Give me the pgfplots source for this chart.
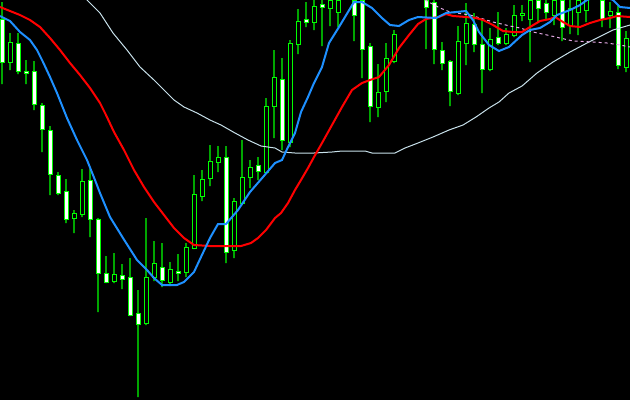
\documentclass[border=0pt]{standalone}
\usepackage{pgfplots}
\pgfplotsset{compat=1.18}
\usepackage{pgfplotstable}
\definecolor{cg}{RGB}{0,255,0}
\definecolor{mablue}{RGB}{30,144,255}
\definecolor{mared}{RGB}{255,0,0}
\definecolor{maslow}{RGB}{200,225,235}
\definecolor{mapink}{RGB}{230,170,230}

% candle data in screen units (y grows downwards): index, high, low, open, close
\pgfplotstableread{
k hi lo o c
0 2 84 19 62
1 33 70 62 42
2 33 74 43 71
3 60 84 71 73
4 61 110 71 104
5 103 152 105 129
6 126 195 130 174
7 172 195 175 193
8 179 223 191 219
9 210 233 218 213
10 169 217 214 181
11 169 237 180 219
12 218 312 219 273
13 256 283 273 282
14 253 283 281 274
15 264 289 275 279
16 258 316 277 315
17 290 397 313 324
18 218 325 323 277
19 241 281 277 263
20 243 287 267 280
21 262 286 282 269
22 254 281 271 273
23 243 277 272 247
24 175 249 248 194
25 170 201 196 179
26 145 186 178 161
27 146 172 162 157
28 146 263 157 252
29 198 258 250 201
30 140 205 203 177
31 160 188 177 167
32 157 180 165 171
33 98 173 172 106
34 50 138 106 77
35 58 150 79 140
36 40 147 142 43
37 9 54 44 21
38 2 27 19 22
39 -5 25 22 6
40 -5 41 4 7
41 -10 16 3 -5
42 -20 7 -3 -15
44 -30 11 -20 -5
45 -20 58 -5 44
46 43 122 46 106
47 64 117 107 92
48 43 102 91 58
49 30 63 61 34
53 -10 39 -5 2
54 -5 59 2 49
55 42 70 50 63
56 60 106 61 91
57 26 95 93 41
58 3 65 43 23
59 13 52 24 44
60 19 93 44 69
61 28 71 69 39
62 12 45 37 43
63 28 45 43 34
64 5 37 35 15
65 5 21 15 13
66 -10 52 14 -5
67 -10 13 -5 3
68 0 19 3 12
69 -10 15 10 -5
70 -10 31 -5 22
71 0 34 25 8
72 -10 25 7 -5
73 -20 2 -5 -15
75 -10 17 -5 14
76 2 28 15 11
77 6 69 12 65
78 31 72 67 38
}\candles

\pgfplotsset{base/.style={width=630bp, height=400bp, scale only axis,
  xmin=0, xmax=630, ymin=0, ymax=400, y dir=reverse,
  ticks=none, axis line style={draw=none}}}

\begin{document}
\begin{tikzpicture}
% wicks
\begin{axis}[base, axis background/.style={fill=black}, ybar stacked, bar width=1.2]
\addplot[draw=none, fill=none] table[x expr=2+8*\thisrow{k}, y=hi] {\candles};
\addplot[draw=none, fill=cg] table[x expr=2+8*\thisrow{k}, y expr=\thisrow{lo}-\thisrow{hi}] {\candles};
\end{axis}
% bodies
\begin{axis}[base, ybar stacked, bar width=4]
\addplot[draw=none, fill=none] table[x expr=2+8*\thisrow{k}, y expr={min(\thisrow{o},\thisrow{c})}] {\candles};
\addplot[draw=cg, fill=white, line width=1bp] table[x expr=2+8*\thisrow{k}, y expr={max(\thisrow{c}-\thisrow{o},0)}] {\candles};
\addplot[draw=cg, fill=black, line width=1bp] table[x expr=2+8*\thisrow{k}, y expr={max(\thisrow{o}-\thisrow{c},0)}] {\candles};
\end{axis}
% moving averages
\begin{axis}[base]
\addplot[maslow, line width=1bp] coordinates {(80,-8)(87,0)(100,13)(113,33)(127,50)(140,67)(154,80)(164,90)(174,100)(184,107)(197,113)(210,120)(221,125)(235,133)(248,140)(261,146)(275,148)(282,152)(295,153)(314,153)(332,152)(342,151)(365,151)(372,153)(395,153)(405,148)(418,143)(433,137)(449,130)(463,125)(476,117)(489,108)(499,102)(509,93)(522,86)(537,73)(553,62)(570,52)(587,43)(603,35)(613,30)(630,25)};
\addplot[mapink, line width=1bp, dash pattern=on 3bp off 3bp] coordinates {(425,0)(440,8)(450,12)(470,15)(480,18)(493,22)(510,26)(520,28)(533,32)(547,35)(560,38)(573,41)(593,42)(607,43)(620,45)(630,47)};
\addplot[mared, line width=2bp] coordinates {(0,7)(10,11)(20,15)(30,20)(40,27)(50,38)(60,50)(70,63)(80,75)(90,88)(100,103)(106,115)(114,132)(124,150)(134,170)(144,187)(154,202)(164,215)(174,228)(184,238)(194,245)(210,246)(241,246)(251,243)(258,238)(266,230)(275,218)(281,213)(288,203)(295,190)(301,180)(308,168)(314,157)(322,143)(332,125)(342,107)(352,90)(362,83)(370,80)(379,77)(389,65)(399,48)(409,35)(418,24)(426,19)(439,17)(446,14)(453,16)(466,17)(476,18)(483,20)(493,25)(503,31)(513,32)(522,32)(530,27)(540,21)(550,19)(555,17)(563,22)(570,26)(580,27)(590,23)(600,20)(610,18)(617,16)(630,17)};
\addplot[mablue, line width=2bp] coordinates {(0,16)(10,21)(20,32)(30,40)(37,50)(43,62)(50,77)(57,93)(67,118)(77,140)(87,160)(95,180)(100,193)(110,217)(123,238)(137,260)(147,270)(154,278)(162,285)(177,285)(184,282)(194,272)(201,257)(210,238)(218,224)(226,224)(238,210)(250,192)(263,177)(275,163)(282,160)(288,147)(295,133)(301,112)(308,97)(314,83)(322,67)(329,43)(339,27)(345,17)(354,2)(362,2)(372,8)(382,18)(390,25)(399,26)(409,20)(418,17)(436,18)(446,13)(466,11)(473,20)(479,32)(489,45)(499,51)(509,47)(522,35)(530,30)(540,28)(550,22)(557,15)(570,10)(580,5)(587,0)(600,-5)(613,0)(620,7)(630,8)};
\end{axis}
\end{tikzpicture}
\end{document}
